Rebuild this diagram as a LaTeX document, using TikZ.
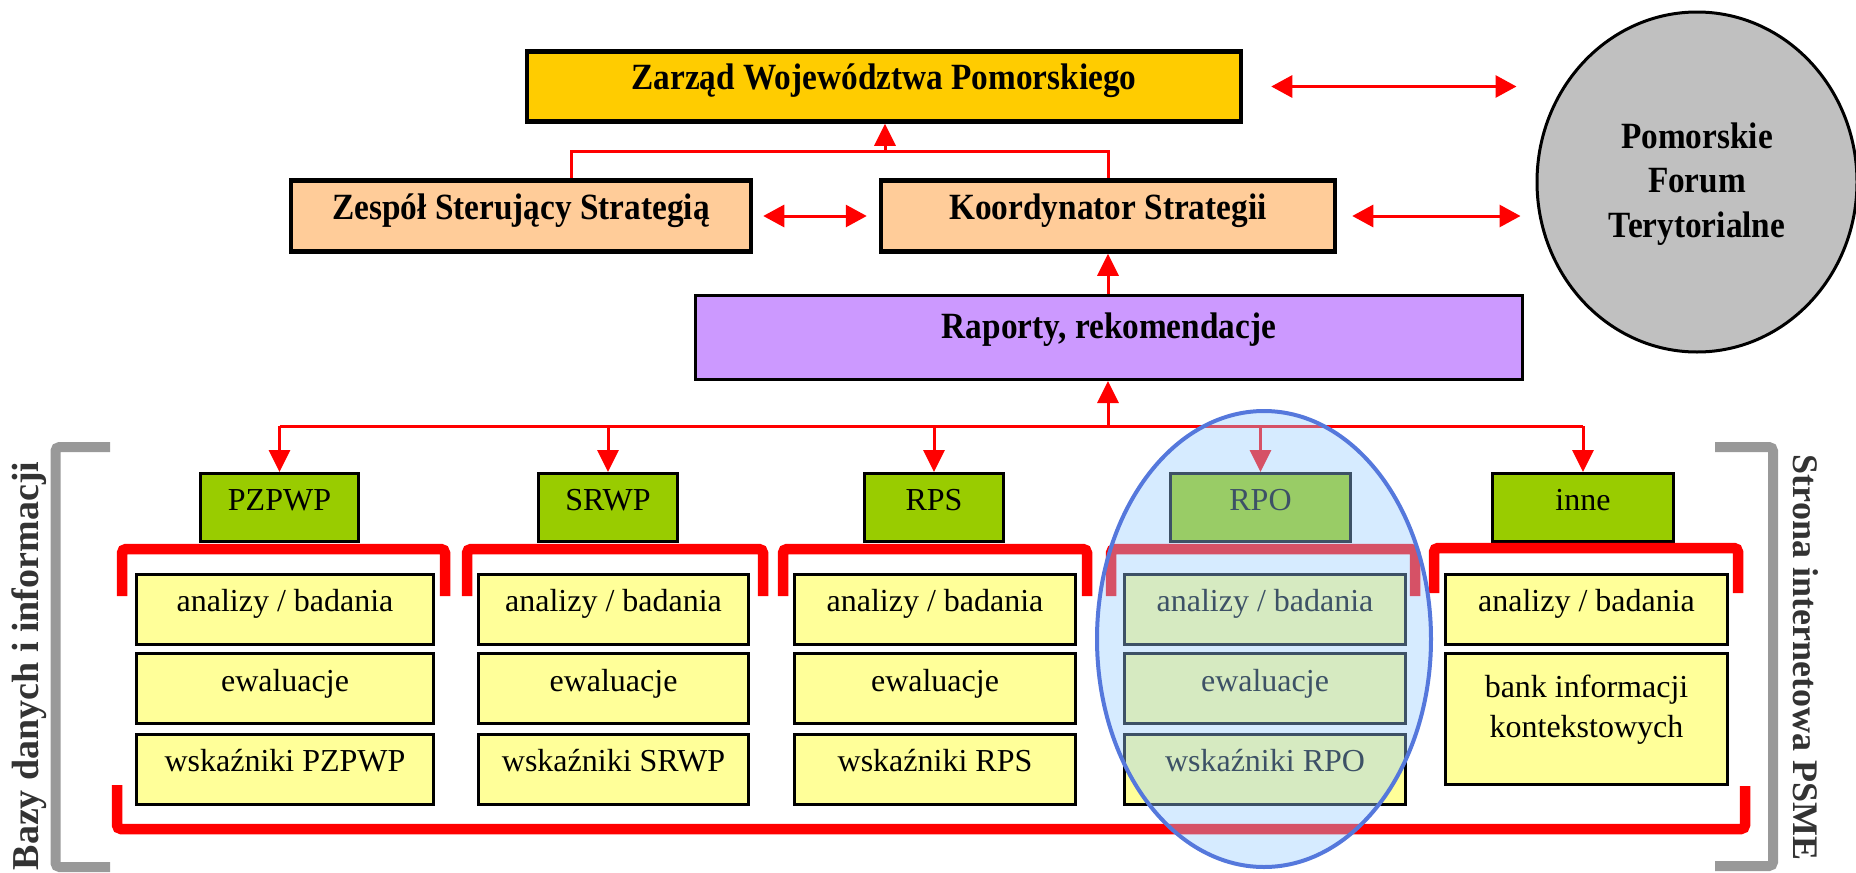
\documentclass[tikz,border=0pt]{standalone}
\usepackage{fontspec}
\setmainfont{Liberation Serif}
\newfontfamily\zcond{Liberation Serif}[FakeStretch=0.9]
\usetikzlibrary{arrows.meta,shapes.geometric}
\definecolor{zgold}{HTML}{FFCC00}
\definecolor{zpeach}{HTML}{FFCC99}
\definecolor{zlilac}{HTML}{CC99FF}
\definecolor{zgreen}{HTML}{99CC00}
\definecolor{zyellow}{HTML}{FFFF99}
\definecolor{zgrey}{HTML}{C0C0C0}
\definecolor{zbrk}{HTML}{999999}
\definecolor{zfocusfill}{HTML}{99CCFF}
\definecolor{zfocusline}{RGB}{85,120,220}
\definecolor{ztext}{HTML}{333333}
\begin{document}
\begin{tikzpicture}[x=1pt,y=-1pt,
  topbox/.style={draw=black, line width=4.5pt, rectangle, inner sep=0pt,
    font=\zcond\bfseries\fontsize{37}{42}\selectfont, text height=0.8em, text depth=0.18em},
  midbox/.style={draw=black, line width=3pt, rectangle, inner sep=0pt,
    font=\zcond\bfseries\fontsize{37}{42}\selectfont, text height=0.75em, text depth=0.6em},
  gbox/.style={draw=black, line width=3pt, rectangle, inner sep=0pt, fill=zgreen,
    minimum height=68pt, font=\fontsize{32}{36}\selectfont, text height=0.78em, text depth=0.19em},
  ybox/.style={draw=black, line width=3pt, rectangle, inner sep=0pt, fill=zyellow,
    minimum height=70pt, font=\fontsize{32}{36}\selectfont, text height=0.75em, text depth=0.22em},
  rline/.style={draw=red, line width=3pt},
  rarrow/.style={rline, -{Triangle[length=22pt,width=21pt]}},
  rdouble/.style={rline, {Triangle[length=21pt,width=22pt]}-{Triangle[length=21pt,width=22pt]}},
  rbrk/.style={draw=red, line width=10.5pt, rounded corners=4pt},
  gbrk/.style={draw=zbrk, line width=10pt, rounded corners=4pt},
  vtext/.style={text=ztext, inner sep=0pt}
]
\useasboundingbox (0,0) rectangle (1856,873);

% top level
\node[topbox, fill=zgold, minimum width=714pt, minimum height=70pt] (zarzad) at (884,86.5) {Zarząd Województwa Pomorskiego};
\node[topbox, fill=zpeach, minimum width=460pt, minimum height=71pt] (zespol) at (521,216) {Zespół Sterujący Strategią};
\node[topbox, fill=zpeach, minimum width=454pt, minimum height=71pt] (koord) at (1108,216) {Koordynator Strategii};
\node[midbox, fill=zlilac, minimum width=827pt, minimum height=84pt] (raporty) at (1109,337.5) {Raporty, rekomendacje};
\node[ellipse, draw=black, line width=3pt, fill=zgrey, minimum width=320pt, minimum height=340pt, inner sep=0pt] (forum) at (1697,182) {};
\node[align=center, inner sep=0pt, font=\zcond\bfseries\fontsize{37}{44.5}\selectfont] (forumtxt) at (1697,184) {Pomorskie\\Forum\\Terytorialne};

% programme boxes
\node[gbox, minimum width=158pt] (pzpwp) at (279.5,507.5) {PZPWP};
\node[gbox, minimum width=139pt] (srwp) at (608,507.5) {SRWP};
\node[gbox, minimum width=139pt] (rps) at (934,507.5) {RPS};
\node[gbox, minimum width=180pt] (rpo) at (1260.5,507.5) {RPO};
\node[gbox, minimum width=181pt] (inne) at (1583,507.5) {inne};

% yellow boxes
\node[ybox, minimum width=297pt] (a1) at (285,609) {analizy / badania};
\node[ybox, minimum width=297pt] (e1) at (285,688.5) {ewaluacje};
\node[ybox, minimum width=297pt] (w1) at (285,769) {wskaźniki PZPWP};
\node[ybox, minimum width=270pt] (a2) at (613.5,609) {analizy / badania};
\node[ybox, minimum width=270pt] (e2) at (613.5,688.5) {ewaluacje};
\node[ybox, minimum width=270pt] (w2) at (613.5,769) {wskaźniki SRWP};
\node[ybox, minimum width=281pt] (a3) at (935,609) {analizy / badania};
\node[ybox, minimum width=281pt] (e3) at (935,688.5) {ewaluacje};
\node[ybox, minimum width=281pt] (w3) at (935,769) {wskaźniki RPS};
\node[ybox, minimum width=281pt] (a4) at (1265,609) {analizy / badania};
\node[ybox, minimum width=281pt] (e4) at (1265,688.5) {ewaluacje};
\node[ybox, minimum width=281pt] (w4) at (1265,769) {wskaźniki RPO};
\node[ybox, minimum width=282pt] (a5) at (1586.5,609) {analizy / badania};
\node[ybox, minimum width=282pt, minimum height=131pt] (bank) at (1586.5,719) {};
\node[align=center, inner sep=0pt, font=\fontsize{32}{40}\selectfont] (banktxt) at (1586.5,709.5) {bank informacji\\kontekstowych};

% connectors (top)
\coordinate (topjoin) at (885,151);
\draw[rline] ([xshift=50pt]zespol.north) |- (topjoin) -| (koord.north);
\draw[rarrow] (topjoin) -- (topjoin |- zarzad.south);
\draw[rarrow] (raporty.north -| koord.south) -- (koord.south);
\draw[rdouble, shorten <=28pt, shorten >=19pt] (zarzad.east) -- (zarzad.east -| forum.west);
\draw[rdouble, shorten <=10pt, shorten >=12pt] (zespol.east) -- (koord.west);
\draw[rdouble, shorten <=15pt, shorten >=15pt] (koord.east) -- (koord.east -| forum.west);

% distribution
\coordinate (hub) at (1108,426);
\draw[rarrow] (hub) -- (hub |- raporty.south);
\draw[rline] (pzpwp.north |- hub) -- (inne.north |- hub);
\draw[rarrow] (pzpwp.north |- hub) -- (pzpwp.north);
\draw[rarrow] (srwp.north |- hub) -- (srwp.north);
\draw[rarrow] (rps.north |- hub) -- (rps.north);
\draw[rarrow] (rpo.north |- hub) -- (rpo.north);
\draw[rarrow] (inne.north |- hub) -- (inne.north);

% red brackets
\draw[rbrk] (122,596) -- (122,549) -- (445,549) -- (445,596);
\draw[rbrk] (467,596) -- (467,549) -- (763,549) -- (763,596);
\draw[rbrk] (783,596) -- (783,549) -- (1087,549) -- (1087,596);
\draw[rbrk] (1111,596) -- (1111,549) -- (1415,549) -- (1415,596);
\draw[rbrk] (1434,593) -- (1434,548) -- (1738,548) -- (1738,593);
\draw[rbrk] (117,785) -- (117,829) -- (1745,829) -- (1745,786);

% grey side brackets
\draw[gbrk] (110,447) -- (55.5,447) -- (55.5,867) -- (110,867);
\draw[gbrk] (1715,447) -- (1773,447) -- (1773,866) -- (1715,866);

% highlight ellipse
\node[ellipse, draw=zfocusline, line width=4pt, fill=zfocusfill, fill opacity=0.4, draw opacity=1,
  minimum width=334pt, minimum height=456pt, inner sep=0pt] (focus) at (1264,639) {};

% side labels
\node[vtext, rotate=90, anchor=base, font=\bfseries\fontsize{38}{42}\selectfont] (bazy) at (38,666) {Bazy danych i informacji};
\node[vtext, rotate=-90, anchor=base, font=\bfseries\fontsize{36}{40}\selectfont] (strona) at (1793,657.5) {Strona internetowa PSME};
\end{tikzpicture}
\end{document}
